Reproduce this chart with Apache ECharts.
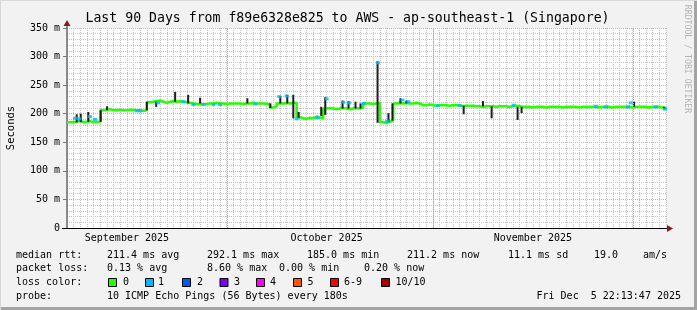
<!DOCTYPE html>
<html><head><meta charset="utf-8">
<script src="https://cdn.jsdelivr.net/npm/echarts@6/dist/echarts.min.js"></script>
<style>html,body{margin:0;padding:0;background:#f2f2f2}#c{width:697px;height:310px}</style>
</head><body><div id="c"></div>
<script>
// ---- data ----
const titleText = 'Last 90 Days from f89e6328e825 to AWS - ap-southeast-1 (Singapore)';
const sampleStepDays = 0.5; // median samples every half day from the start
const medianMs = [
 185,185,186,188,185,186,187,185,186,186,
 206,207,208,206,206,207,206,206,207,207,206,206,205,206,
 220,221,222,223,221,219,221,222,221,222,221,220,219,
 218,217,217,216,217,218,218,219,218,218,217,218,218,218,218,217,218,218,219,218,218,218,217,216,211,213,218,218,219,218,219,219,
 194,192,191,193,192,195,193,192,
 209,210,209,208,209,210,209,208,209,210,209,211,
 218,218,217,218,219,
 185,184,186,188,
 218,219,218,219,218,218,219,218,
 215,215,216,215,214,215,215,215,214,215,215,215,213,214,214,214,
 213,213,212,213,213,213,212,213,213,213,212,213,214,213,212,
 212,212,211,212,212,212,211,212,212,212,212,211,212,212,212,212,211,212,212,212,
 212,212,211,212,212,212,211,212,212,212,212,212,211,212,212,212,212,211,212,212,
 212,211,210,208
];
// dark smoke spikes: [day, low ms, high ms]
const spikes = [
 [1.46,185,199],[2.06,185,200],[3.2,186,203],[5.07,186,206],[6.02,206,213],
 [12.0,206,221],[13.4,212,221],[16.25,221,238],[18.2,218,233],[20.0,218,228],
 [27.1,218,227],[30.55,210,218],[32.05,218,231],[33.1,218,233],[34.0,192,233],
 [34.8,192,203],[38.2,196,212],[38.8,198,229],[41.4,209,223],[42.3,209,222],
 [43.35,209,221],[44.1,209,218],[46.66,184,292],[48.3,185,201],[48.9,188,218],
 [50.1,218,227],[51.0,218,223],[59.6,199,214],[62.5,213,222],[63.8,192,213],
 [67.7,189,212],[68.3,201,212],[85.2,212,221],[89.7,208,212]
];
// loss-1 (blue) median samples: [day, ms]
const lossOne = [
 [1.2,192],[1.8,191],[3.46,195],[4.2,190],[10.5,205],[11.0,205],[13.7,219],[17.5,221],
 [19.0,216],[20.5,216],[22.0,216],[23.0,216],[28.3,217],[31.9,230],[33.0,231],[34.5,191],
 [37.6,193],[39.0,226],[41.5,220],[42.4,219],[44.6,218],[46.7,289],[48.1,187],[50.4,224],
 [51.3,221],[55.7,214],[59.0,214],[67.1,215],[79.5,213],[81.0,212],[84.3,212],[84.7,219],
 [88.5,212],[89.85,208]
];
const monthStartDays = [24.07, 55.07, 85.07];
const monthLabelDays = [9, 39, 70];
const monthLabels = ['September 2025', 'October 2025', 'November 2025'];
const yTicks = [0, 50, 100, 150, 200, 250, 300, 350];
const statsRtt = ['211.4 ms avg', '292.1 ms max', '185.0 ms min', '211.2 ms now', '11.1 ms sd', '19.0', 'am/s'];
const statsLoss = ['0.13 % avg', '8.60 % max', '0.00 % min', '0.20 % now'];
const lossLabels = ['0', '1', '2', '3', '4', '5', '6-9', '10/10'];
const lossColors = ['#26ff00', '#00b8ff', '#0059ff', '#7e00ff', '#ff00ff', '#ff5500', '#ff0000', '#a10000'];
const probeText = '10 ICMP Echo Pings (56 Bytes) every 180s';
const dateText = 'Fri Dec  5 22:13:47 2025';

// ---- chart ----
const MONO = 'DejaVu Sans Mono';
const chart = echarts.init(document.getElementById('c'), null, {renderer: 'canvas'});
const medianData = medianMs.map((v, i) => [i * sampleStepDays, v]);

const T = (x, y, s, extra) => Object.assign({type: 'text', x: x, y: y, style: Object.assign({text: s, font: '10px "' + MONO + '"', fill: '#000', textVerticalAlign: 'middle'}, extra || {})});

const graphics = [];
const rttX = [107, 207, 307, 407, 508, 594, 643];
graphics.push(T(16, 255, 'median rtt:'));
statsRtt.forEach((s, i) => graphics.push(T(rttX[i], 255, s)));
const lossX = [107, 207, 279, 364];
graphics.push(T(16, 268, 'packet loss:'));
statsLoss.forEach((s, i) => graphics.push(T(lossX[i], 268, s)));
graphics.push(T(16, 282, 'loss color:'));
const swX = [108, 145, 182, 219.5, 256, 293, 330, 381];
const lblX = [123, 158, 197, 234, 270, 307.5, 344, 395.5];
lossLabels.forEach((s, i) => {
  graphics.push({type: 'rect', shape: {x: swX[i] + 0.5, y: 278.5, width: 8, height: 8}, style: {fill: lossColors[i], stroke: '#000', lineWidth: 1}});
  graphics.push(T(lblX[i], 282, s));
});
graphics.push(T(16, 296, 'probe:'));
graphics.push(T(107, 296, probeText));
graphics.push(T(681, 296, dateText, {textAlign: 'right'}));
graphics.push({type: 'text', x: 347.5, y: 19, style: {text: titleText, font: '13.2px "' + MONO + '"', fill: '#000', textAlign: 'center', textVerticalAlign: 'middle'}});
graphics.push({type: 'text', x: 687, y: 59, rotation: -Math.PI / 2, style: {text: 'RRDTOOL / TOBI OETIKER', font: '8.2px "' + MONO + '"', fill: '#b4b4b4', textAlign: 'center', textVerticalAlign: 'middle'}});
graphics.push({type: 'rect', shape: {x: 0, y: 307, width: 697, height: 3}, style: {fill: '#a4a4a4'}});
graphics.push({type: 'rect', shape: {x: 694, y: 0, width: 3, height: 310}, style: {fill: '#a4a4a4'}});
graphics.push({type: 'rect', shape: {x: 0, y: 0, width: 697, height: 1}, style: {fill: '#d8d8d8'}});
graphics.push({type: 'rect', shape: {x: 0, y: 0, width: 1, height: 310}, style: {fill: '#d8d8d8'}});

const GRIDC = '#c4c4c4';
const MGRIDC = '#eea0a0';
const option = {
  backgroundColor: '#f2f2f2',
  animation: false,
  textStyle: {fontFamily: MONO},
  grid: {left: 67, right: 31, top: 28, bottom: 82, show: true, backgroundColor: '#ffffff', borderWidth: 0,
    containLabel: false, outerBoundsMode: 'none'},
  xAxis: {
    type: 'value', min: 0, max: 90, interval: 1,
    axisLine: {show: true, lineStyle: {color: '#000', width: 1}},
    axisTick: {show: false},
    axisLabel: {
      margin: 5, color: '#000', fontFamily: MONO, fontSize: 10, showMinLabel: true, showMaxLabel: true,
      formatter: v => { const k = monthLabelDays.indexOf(v); return k >= 0 ? monthLabels[k] : ''; }
    },
    splitLine: {show: true, lineStyle: {color: GRIDC, type: [1, 1], width: 1}}
  },
  yAxis: {
    type: 'value', min: 0, max: 350, interval: 50,
    name: 'Seconds', nameLocation: 'middle', nameGap: 50, nameRotate: 90,
    nameTextStyle: {fontFamily: MONO, fontSize: 10.5, color: '#000'},
    axisLine: {show: true, lineStyle: {color: '#6a6a6a', width: 1.5}},
    axisTick: {show: true, length: 4, lineStyle: {color: '#777'}},
    axisLabel: {margin: 7, color: '#000', fontFamily: MONO, fontSize: 10,
      formatter: v => yTicks.indexOf(v) >= 0 ? (v === 0 ? '0' : v + ' m') : ''},
    splitLine: {show: true, lineStyle: {color: MGRIDC, type: [1, 1], width: 1}},
    minorTick: {show: false, splitNumber: 5},
    minorSplitLine: {show: true, lineStyle: {color: GRIDC, type: [1, 1], width: 1}}
  },
  series: [
    {
      type: 'line', data: [], silent: true, symbol: 'none', z: 1,
      markLine: {silent: true, symbol: 'none', label: {show: false},
        lineStyle: {color: '#f58c8c', type: [1, 1], width: 1},
        data: monthStartDays.map(d => ({xAxis: d}))}
    },
    {
      type: 'line', data: medianData, step: 'end', symbol: 'none', silent: true, z: 3,
      lineStyle: {color: '#26ff00', width: 2.6}
    },
    {
      type: 'custom', data: spikes, silent: true, z: 4,
      renderItem: (params, api) => {
        const a = api.coord([api.value(0), api.value(1)]);
        const b = api.coord([api.value(0), api.value(2)]);
        return {type: 'line', shape: {x1: a[0], y1: a[1], x2: b[0], y2: b[1]}, style: {stroke: '#1e1e1e', lineWidth: 2}};
      },
      encode: {x: 0, y: [1, 2]}
    },
    {
      type: 'scatter', data: lossOne, silent: true, z: 5,
      symbol: 'rect', symbolSize: [4, 3], itemStyle: {color: '#00b8ff'}
    }
  ],
  graphic: graphics
};
chart.setOption(option);

const p0 = chart.convertToPixel({gridIndex: 0}, [0, 0]);
const pTop = chart.convertToPixel({gridIndex: 0}, [0, 350]);
const pRight = chart.convertToPixel({gridIndex: 0}, [90, 0]);
const arrowColor = '#8b1a1a';
chart.setOption({graphic: graphics.concat([
  {type: 'line', shape: {x1: p0[0] - 5, y1: p0[1] + 0.5, x2: pRight[0] + 2, y2: p0[1] + 0.5}, style: {stroke: '#000', lineWidth: 1}, z: 10},
  {type: 'line', shape: {x1: p0[0], y1: pTop[1], x2: p0[0], y2: pTop[1] - 6}, style: {stroke: '#6a6a6a', lineWidth: 1.5}, z: 10},
  {type: 'polygon', shape: {points: [[p0[0] - 3.5, pTop[1] - 2], [p0[0] + 3.5, pTop[1] - 2], [p0[0], pTop[1] - 8]]}, style: {fill: arrowColor}, z: 10},
  {type: 'polygon', shape: {points: [[pRight[0] + 1, p0[1] - 3], [pRight[0] + 1, p0[1] + 4], [pRight[0] + 7, p0[1] + 0.5]]}, style: {fill: arrowColor}, z: 10}
])});
</script>
</body></html>
